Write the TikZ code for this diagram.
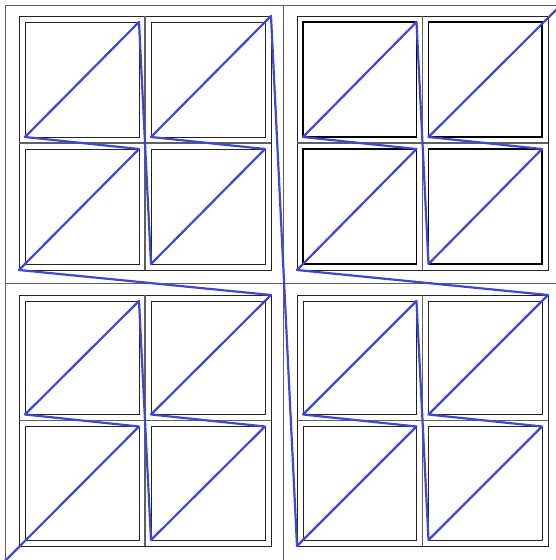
\documentclass[tikz,border=0pt]{standalone}
\definecolor{curveblue}{RGB}{60,72,212}
\definecolor{boxgray}{RGB}{35,35,35}
\definecolor{framegray}{RGB}{95,95,95}
\begin{document}
\begin{tikzpicture}[x=1pt,y=-1pt,
  framestyle/.style={draw=framegray,line width=1pt},
  crossline/.style={draw=framegray,line width=1.1pt},
  quadbox/.style={draw=boxgray,line width=1pt},
  cellbox/.style={draw=boxgray,line width=1pt},
  boldcell/.style={draw=black,line width=1.25pt},
  curvestyle/.style={draw=curveblue,line width=2.2pt,line join=round,line cap=round}]
\useasboundingbox (0,0) rectangle (556,560);
\begin{scope}
\clip (0,0) rectangle (556,560);
\draw[framestyle] (5,561) -- (5,5) -- (561,5);
\draw[framestyle] (283,5) -- (283,561);
\draw[framestyle] (5,283) -- (561,283);
\foreach \q/\xa/\xb/\ya/\yb/\cs in {0/19/271/295/546/cellbox, 1/19/271/16/270/cellbox, 2/297/548/295/546/cellbox, 3/297/548/16/270/boldcell}{
  \pgfmathsetmacro\mx{(\xa+\xb)/2}
  \pgfmathsetmacro\my{(\ya+\yb)/2}
  \draw[quadbox] (\xa,\ya) rectangle (\xb,\yb);
  \draw[crossline] (\mx,\ya) -- (\mx,\yb) (\xa,\my) -- (\xb,\my);
  \foreach \c/\cx/\cy in {0/0/1,1/0/0,2/1/1,3/1/0}{
    \pgfmathsetmacro\xl{\cx==0 ? \xa+6 : \mx+6}
    \pgfmathsetmacro\xr{\cx==0 ? \mx-6 : \xb-6}
    \pgfmathsetmacro\yt{\cy==0 ? \ya+6 : \my+6}
    \pgfmathsetmacro\ybm{\cy==0 ? \my-6 : \yb-6}
    \draw[\cs] (\xl,\yt) rectangle (\xr,\ybm);
    \pgfmathtruncatemacro\nb{8*\q+2*\c+1}
    \pgfmathtruncatemacro\nt{\nb+1}
    \pgfmathsetmacro\bx{\c==0 ? \xa : \xl}
    \pgfmathsetmacro\by{\c==0 ? \yb : \ybm}
    \pgfmathsetmacro\tx{\c==3 ? \xb : \xr}
    \pgfmathsetmacro\ty{\c==3 ? \ya : \yt}
    \coordinate (p\nb) at (\bx,\by);
    \coordinate (p\nt) at (\tx,\ty);
  }
}
\coordinate (p1) at (5,561);
\coordinate (p32) at (561,5);
\draw[curvestyle] (p1) \foreach \i in {2,...,32}{ -- (p\i)};
\end{scope}
\end{tikzpicture}
\end{document}
